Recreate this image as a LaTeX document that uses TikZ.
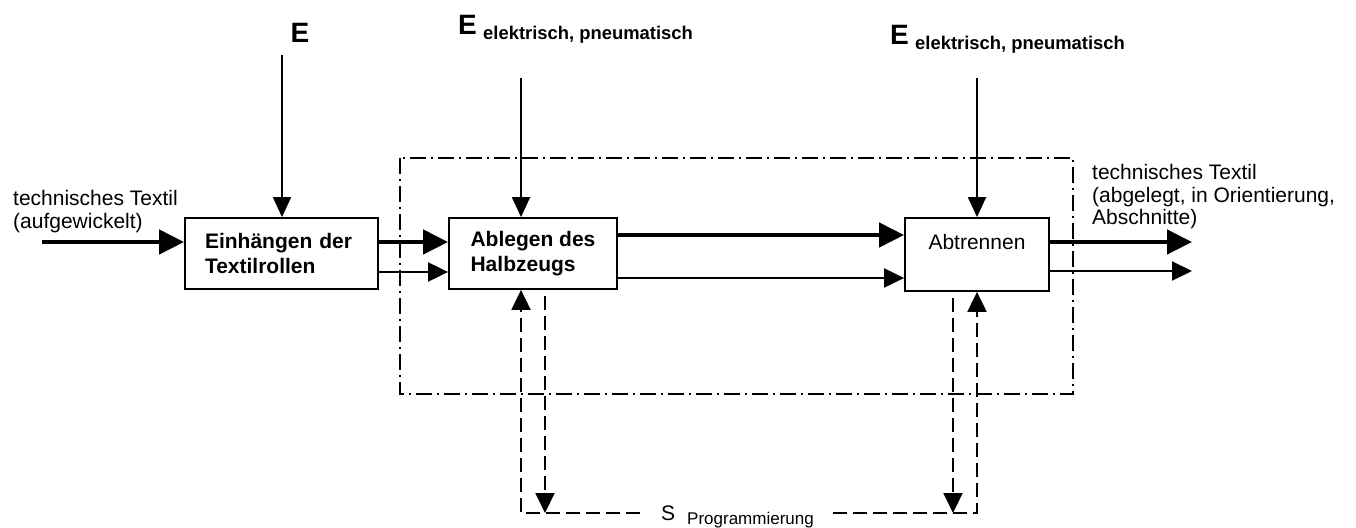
\documentclass[tikz,border=0pt]{standalone}
\usepackage{fontspec}
\setmainfont{Liberation Sans}
\usetikzlibrary{arrows.meta}

\begin{document}
\begin{tikzpicture}[x=1pt,y=-1pt,
  box/.style={draw, line width=1.8pt, inner sep=0pt, align=left,
    font=\fontsize{21}{25}\selectfont},
  txt/.style={inner sep=0pt, align=left, font=\fontsize{21}{22.5}\selectfont},
  ebig/.style={inner sep=0pt, font=\bfseries\fontsize{28}{30}\selectfont},
  esub/.style={inner sep=0pt, font=\bfseries\fontsize{18.4}{20}\selectfont},
  flowthick/.style={line width=4.5pt, -{Triangle[length=25pt,width=24pt]}},
  flowthin/.style={line width=2pt, -{Triangle[length=20pt,width=19pt]}},
  energy/.style={line width=2pt, -{Triangle[length=20pt,width=18pt]}},
  feedback/.style={line width=2pt, dash pattern=on 14pt off 6pt,
    -{Triangle[length=20pt,width=19pt]}},
  boundary/.style={line width=1.6pt, dash pattern=on 16pt off 5pt on 2pt off 5pt}
]
\useasboundingbox (0,0) rectangle (1356,527);

% system boundary
\draw[boundary] (400,158) rectangle (1073,394);

% process blocks
\node[box, minimum width=193pt, minimum height=71pt, text width=153pt]
  (b1) at (281.5,253.5) {\bfseries Einhängen der\\\bfseries Textilrollen};
\node[box, minimum width=168pt, minimum height=71pt]
  (b2) at (533,253.5) {\bfseries Ablegen des\\\bfseries Halbzeugs};
\node[box, minimum width=144pt, minimum height=73pt, align=center]
  (b3) at (977,254.5) {Abtrennen\\\mbox{}};

% material in / out labels
\node[txt, anchor=north west] (inT) at (13,190.5) {technisches Textil\\(aufgewickelt)};
\node[txt, anchor=north west] (outT) at (1092,164.5)
  {technisches Textil\\(abgelegt, in Orientierung,\\Abschnitte)};

% energy labels
\node[ebig, anchor=base] (E1) at (300,42) {E};
\node[ebig, anchor=base west] (E2) at (458,35) {E};
\node[esub, anchor=base west] (E2s) at (483,40) {elektrisch, pneumatisch};
\node[ebig, anchor=base west] (E3) at (890,45) {E};
\node[esub, anchor=base west] (E3s) at (915,50) {elektrisch, pneumatisch};

% signal label
\node[inner sep=0pt, anchor=base west, font=\fontsize{21}{22}\selectfont] (S) at (661,520) {S};
\node[inner sep=0pt, anchor=base west, font=\fontsize{17}{18}\selectfont] (Ss) at (687,524) {Programmierung};

% level coordinates
\coordinate (in0) at (42,242);
\coordinate (y12a) at (0,242);
\coordinate (y12b) at (0,272);
\coordinate (y23a) at (0,235);
\coordinate (y23b) at (0,278);
\coordinate (o1) at (1192,242);
\coordinate (o2) at (1192,271);
\coordinate (e1) at (282,55);
\coordinate (e2) at (521,78);
\coordinate (e3) at (977,78);
\coordinate (sL) at (640,513);
\coordinate (sR) at (833,513);
\coordinate (c2u) at (521,513);
\coordinate (c2d) at (545,513);
\coordinate (c3d) at (953,513);
\coordinate (c3u) at (977,513);

% material flow
\draw[flowthick] (in0) -- (in0 -| b1.west);
\draw[flowthick] (b1.east |- y12a) -- (b2.west |- y12a);
\draw[flowthin]  (b1.east |- y12b) -- (b2.west |- y12b);
\draw[flowthick] (b2.east |- y23a) -- (b3.west |- y23a);
\draw[flowthin]  (b2.east |- y23b) -- (b3.west |- y23b);
\draw[flowthick] (b3.east |- o1) -- (o1);
\draw[flowthin]  (b3.east |- o2) -- (o2);

% energy supply
\draw[energy] (e1) -- (e1 |- b1.north);
\draw[energy] (e2) -- (e2 |- b2.north);
\draw[energy] (e3) -- (e3 |- b3.north);

% programming signals
\draw[feedback] (sL) -- (c2u) -- (c2u |- b2.south);
\draw[feedback, dash phase=14pt] (c2d |- b2.south) -- (c2d);
\draw[feedback] (sR) -- (c3u) -- (c3u |- b3.south);
\draw[feedback, dash phase=14pt] (c3d |- b3.south) -- (c3d);
\end{tikzpicture}
\end{document}
